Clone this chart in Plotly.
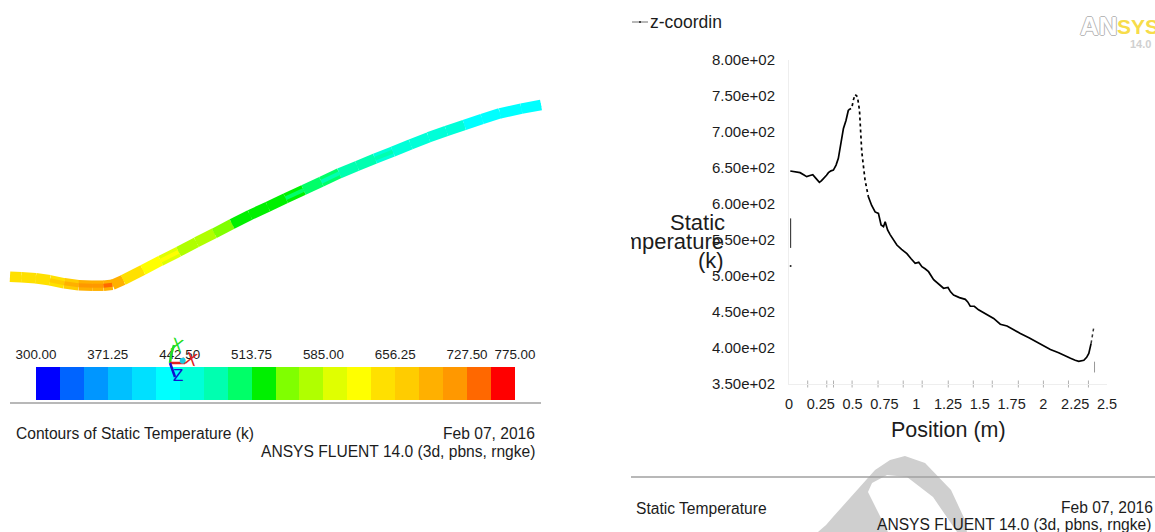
import plotly.graph_objects as go

W, H = 1155, 532
FONT = "Liberation Sans"
INK = "#1c1c1c"

# ---------- contour band: centre line (picture coordinates) and temperature read by colour
band_x = [10, 21.4, 35.7, 50, 64.3, 78.6, 92.9, 103.6, 112.5, 123.2, 142.9, 160.7, 178.6, 196.4, 214.3, 232.1,
          250, 267.9, 285.7, 303.6, 321.4, 339.3, 357.1, 375, 392.9, 410.7, 428.6, 446.4, 464.3, 482.1, 500, 521.4, 541]
band_y = [276.7, 277.3, 278.3, 280.3, 283.3, 285.3, 285.7, 285.7, 284.7, 280, 270, 260.7, 251.7, 242.3, 233.3, 224,
          215, 206.7, 198.3, 190, 181.7, 173.3, 166, 158.7, 151.7, 144.3, 137.3, 131, 125, 119, 113.3, 108.7, 105]
band_edge_t = [645, 645, 645, 655, 665, 690, 690, 690, 680, 640, 620, 600, 570, 565, 545, 535,
               520, 515, 515, 505, 490, 475, 470, 465, 460, 455, 450, 445, 440, 435, 430, 430]
band_core_t = [645, 645, 650, 670, 700, 710, 720, 735, 690, 650, 625, 610, 580, 575, 555, 530,
               518, 516, 510, 495, 480, 475, 470, 470, 460, 450, 455, 445, 440, 435, 430, 430]

# ---------- colour scale
scale_lo, scale_hi = 300.0, 775.0
scale_ticks = [300.00, 371.25, 442.50, 513.75, 585.00, 656.25, 727.50, 775.00]
scale_colors = ["#0000ff", "#0064ff", "#0096ff", "#00c0ff", "#00e0ff", "#00ffff", "#00ffd8", "#00ffb0", "#00ff68",
                "#00f000", "#80ff00", "#b0ff00", "#e0ff00", "#ffff00", "#ffe000", "#ffcc00", "#ffb000", "#ff9800",
                "#ff6800", "#ff0000"]

# ---------- XY plot: Static Temperature (k) against Position (m)
rise_x = [0.01, 0.05, 0.087, 0.115, 0.139, 0.165, 0.187, 0.21, 0.239, 0.256, 0.276, 0.295, 0.31, 0.33, 0.349, 0.37, 0.388, 0.41, 0.428, 0.448, 0.467]
rise_t = [645.8, 644.8, 643.5, 640.5, 638, 639.5, 640.7, 636, 630, 632.5, 635.7, 640, 643.5, 646, 647, 654, 663.5, 684, 705, 716, 730.5]
peak_x = [0.467, 0.493, 0.507, 0.52, 0.538, 0.554, 0.572, 0.598, 0.624]
peak_t = [730.5, 733, 745, 752, 749, 730.5, 672.6, 633, 610]
fall_x = [0.624, 0.65, 0.677, 0.703, 0.724, 0.743, 0.756, 0.775, 0.795, 0.82, 0.848, 0.885, 0.927, 0.96, 0.992, 1.02, 1.045,
          1.07, 1.097, 1.137, 1.175, 1.215, 1.25, 1.27, 1.294, 1.34, 1.386, 1.405, 1.425, 1.457, 1.49, 1.55, 1.609, 1.661,
          1.714, 1.77, 1.819, 1.89, 1.95, 2.0, 2.055, 2.12, 2.17, 2.213, 2.25, 2.278, 2.318, 2.34, 2.357, 2.375]
fall_t = [610, 598, 589, 587, 571, 568.5, 575.4, 564, 557.5, 551, 543, 537, 531, 524, 517.6, 519, 513,
          510, 506, 495, 489, 483, 484, 478, 473.6, 470, 467.6, 464, 458, 458, 453, 447, 441, 433,
          430.5, 425, 420, 414, 408, 403, 398, 393.5, 389, 385.7, 383, 381.5, 383, 387, 392.6, 406.5]
tail_x = [2.375, 2.385, 2.396]
tail_t = [406.5, 417, 428.7]
stray_x = [0.013, 0.013]
stray_t = [580, 539]
stray_dot_x = [0.013]
stray_dot_t = [514]
stray_low_x = [2.402, 2.402]
stray_low_t = [381, 366]

x_ticks = [0, 0.25, 0.5, 0.75, 1, 1.25, 1.5, 1.75, 2, 2.25, 2.5]
x_tick_text = ["0", "0.25", "0.5", "0.75", "1", "1.25", "1.5", "1.75", "2", "2.25", "2.5"]
y_ticks = [350, 400, 450, 500, 550, 600, 650, 700, 750, 800]
y_tick_text = ["3.50e+02", "4.00e+02", "4.50e+02", "5.00e+02", "5.50e+02", "6.00e+02", "6.50e+02", "7.00e+02", "7.50e+02", "8.00e+02"]
x_marks = [0.147, 0.297, 0.35, 0.496, 0.70, 0.898, 1.047, 1.252, 1.449, 1.598, 1.803, 2.0, 2.197, 2.354, 2.504]
y_marks = [750, 700, 626, 578, 502, 427]


def fx(px):
    return px / W


def fy(py):
    return 1 - py / H


def band_color(t):
    step = (scale_hi - scale_lo) / len(scale_colors)
    return scale_colors[min(len(scale_colors) - 1, int((t - scale_lo) / step))]


fig = go.Figure()

# colour scale
step = (scale_hi - scale_lo) / len(scale_colors)
fig.add_trace(go.Bar(x=[scale_lo + step * (i + 0.5) for i in range(len(scale_colors))], y=[1] * len(scale_colors),
                     width=step, marker=dict(color=scale_colors, line=dict(width=0)), xaxis="x2", yaxis="y2",
                     showlegend=False, hoverinfo="skip"))

# contour band
for temps, wid in ((band_edge_t, 10.5), (band_core_t, 4)):
    for i, t in enumerate(temps):
        fig.add_trace(go.Scatter(x=band_x[i:i + 2], y=band_y[i:i + 2], mode="lines", xaxis="x3", yaxis="y3",
                                 line=dict(color=band_color(t), width=wid), showlegend=False, hoverinfo="skip"))

# orientation triad
triad = [([170, 171, 174], [363, 355, 345], "#22dd22"), ([170, 185], [363, 363], "#e02020"), ([170, 175], [363, 377], "#1010d0")]
for tx, ty, col in triad:
    fig.add_trace(go.Scatter(x=tx, y=ty, mode="lines", xaxis="x3", yaxis="y3", line=dict(color=col, width=2.5),
                             showlegend=False, hoverinfo="skip"))
fig.add_trace(go.Scatter(x=[182.7], y=[360.7], mode="markers", xaxis="x3", yaxis="y3",
                         marker=dict(color="#20c8e0", size=6), showlegend=False, hoverinfo="skip"))

# XY curve
black = dict(color="black", width=1.7)
fig.add_trace(go.Scatter(x=rise_x, y=rise_t, mode="lines", line=black, showlegend=False))
fig.add_trace(go.Scatter(x=peak_x, y=peak_t, mode="lines", line=dict(color="black", width=1.7, dash="dot"), showlegend=False))
fig.add_trace(go.Scatter(x=fall_x, y=fall_t, mode="lines", line=black, showlegend=False))
fig.add_trace(go.Scatter(x=tail_x, y=tail_t, mode="lines", line=dict(color="#333333", width=1.5, dash="dot"), showlegend=False))
fig.add_trace(go.Scatter(x=stray_x, y=stray_t, mode="lines", line=dict(color="#222222", width=1), showlegend=False))
fig.add_trace(go.Scatter(x=stray_dot_x, y=stray_dot_t, mode="markers", marker=dict(color="#222222", size=2), showlegend=False))
fig.add_trace(go.Scatter(x=stray_low_x, y=stray_low_t, mode="lines", line=dict(color="#999999", width=1), showlegend=False))
fig.add_trace(go.Scatter(x=x_marks, y=[350] * len(x_marks), mode="markers", cliponaxis=False, showlegend=False,
                         marker=dict(symbol="line-ns", size=5, line=dict(color="#b0b0b0", width=1))))
fig.add_trace(go.Scatter(x=[-0.016] * len(y_marks), y=y_marks, mode="markers", cliponaxis=False, showlegend=False,
                         marker=dict(symbol="line-ew", size=5, line=dict(color="#b0b0b0", width=1))))


def note(text, px, py, size, anchor="left", color=INK, **kw):
    fig.add_annotation(text=text, x=px, y=py, xref="x3", yref="y3", xanchor=anchor, yanchor="middle",
                       showarrow=False, font=dict(family=kw.pop("family", FONT), size=size, color=color,
                                                  **kw.pop("fontkw", {})), borderpad=0, borderwidth=0, **kw)


# left footer
note("Contours of Static Temperature (k)", 16, 433, 15.6)
note("Feb 07, 2016", 535, 433, 15.6, "right")
note("ANSYS FLUENT 14.0 (3d, pbns, rngke)", 535, 451, 15.6, "right")
# right footer
note("Static Temperature", 636, 508, 15.6)
note("Feb 07, 2016", 1153, 507, 15.6, "right")
note("ANSYS FLUENT 14.0 (3d, pbns, rngke)", 1151, 524, 15.6, "right")
# triad letters
note("X", 176.5, 345, 18, "center", "#22dd22", textangle=15)
note("X", 190.5, 359, 18, "center", "#e02020", textangle=15)
note("Z", 177.5, 375, 17, "center", "#1010d0")
# axis titles
note("Position (m)", 948, 430, 21.5, "center")
note("Static", 697.5, 222, 22, "center")
note("Temperature", 631, 241, 22, "left", width=93, align="right")
note("(k)", 711, 260, 22, "center")
# legend
note("z-coordinate", 650, 22, 17.5, "left", width=72, align="left")
# logo
outline = "-1px 0 #b8b8b8, 1px 0 #b8b8b8, 0 -1px #b8b8b8, 0 1px #b8b8b8"
note("<b>AN</b>", 1080, 26, 26, "left", "#ffffff", fontkw=dict(shadow=outline))
note("<b>SYS</b>", 1117, 26, 21, "left", "#f7dc4a")
note("<b>14.0</b>", 1130, 44, 11, "left", "#d0d0d0")

# watermark fragment
wm = [(818, 532), (826, 525), (833, 517), (875, 470), (890, 460), (905, 456), (925, 463), (951, 490), (965, 520), (967, 532),
      (957, 532), (933, 497), (907, 477), (887, 475), (872, 483), (868, 492), (888, 532)]
wm_path = "M " + " L ".join(f"{fx(a):.4f},{fy(b):.4f}" for a, b in wm) + " Z"

shapes = [
    dict(type="path", path=wm_path, xref="paper", yref="paper", fillcolor="#cfcfcf", line=dict(width=0), layer="below"),
    dict(type="line", xref="paper", yref="paper", x0=fx(10), x1=fx(541), y0=fy(403), y1=fy(403),
         line=dict(color="#a0a0a0", width=1.5)),
    dict(type="line", xref="paper", yref="paper", x0=fx(631), x1=fx(1155), y0=fy(477), y1=fy(477),
         line=dict(color="#a0a0a0", width=1.5)),
    dict(type="line", xref="paper", yref="paper", x0=fx(632), x1=fx(648), y0=fy(22), y1=fy(22),
         line=dict(color="#707070", width=1)),
    dict(type="circle", xref="paper", yref="paper", x0=fx(639), x1=fx(641), y0=fy(23), y1=fy(21),
         fillcolor="#202020", line=dict(width=0)),
]

tickfont = dict(family=FONT, size=15, color=INK)
fig.update_layout(
    width=W, height=H, autosize=False, margin=dict(l=0, r=0, t=0, b=0, pad=0, autoexpand=False),
    paper_bgcolor="white", plot_bgcolor="rgba(0,0,0,0)", showlegend=False, shapes=shapes, bargap=0,
    xaxis=dict(domain=[fx(789), fx(1107)], range=[0, 2.5], tickmode="array", tickvals=x_ticks, ticktext=x_tick_text,
               tickfont=dict(family=FONT, size=14.5, color=INK), ticks="", ticklabelstandoff=7, showgrid=False,
               zeroline=False, showline=True, linecolor="#eeeeee", linewidth=1, anchor="y"),
    yaxis=dict(domain=[fy(384), fy(60)], range=[350, 800], tickmode="array", tickvals=y_ticks, ticktext=y_tick_text,
               tickfont=tickfont, ticks="", ticklabelstandoff=10, showgrid=False, zeroline=False, showline=True,
               linecolor="#eeeeee", linewidth=1, anchor="x"),
    xaxis2=dict(domain=[fx(36), fx(515)], range=[scale_lo, scale_hi], side="top", tickmode="array", tickvals=scale_ticks,
                ticktext=[f"{v:.2f}" for v in scale_ticks], tickfont=dict(family=FONT, size=13.4, color=INK), ticks="",
                ticklabelstandoff=4, showgrid=False, zeroline=False, showline=False, anchor="y2"),
    yaxis2=dict(domain=[fy(400), fy(367)], range=[0, 1], visible=False, anchor="x2"),
    # full-canvas axes in picture units: holds the band, the triad and all free text
    xaxis3=dict(domain=[0, 1], range=[0, W], visible=False, anchor="y3"),
    yaxis3=dict(domain=[0, 1], range=[H, 0], visible=False, anchor="x3"),
)

fig.write_html("out.html", config=dict(displayModeBar=False),
               post_script="document.body.style.margin='0';document.body.style.overflow='hidden';")
